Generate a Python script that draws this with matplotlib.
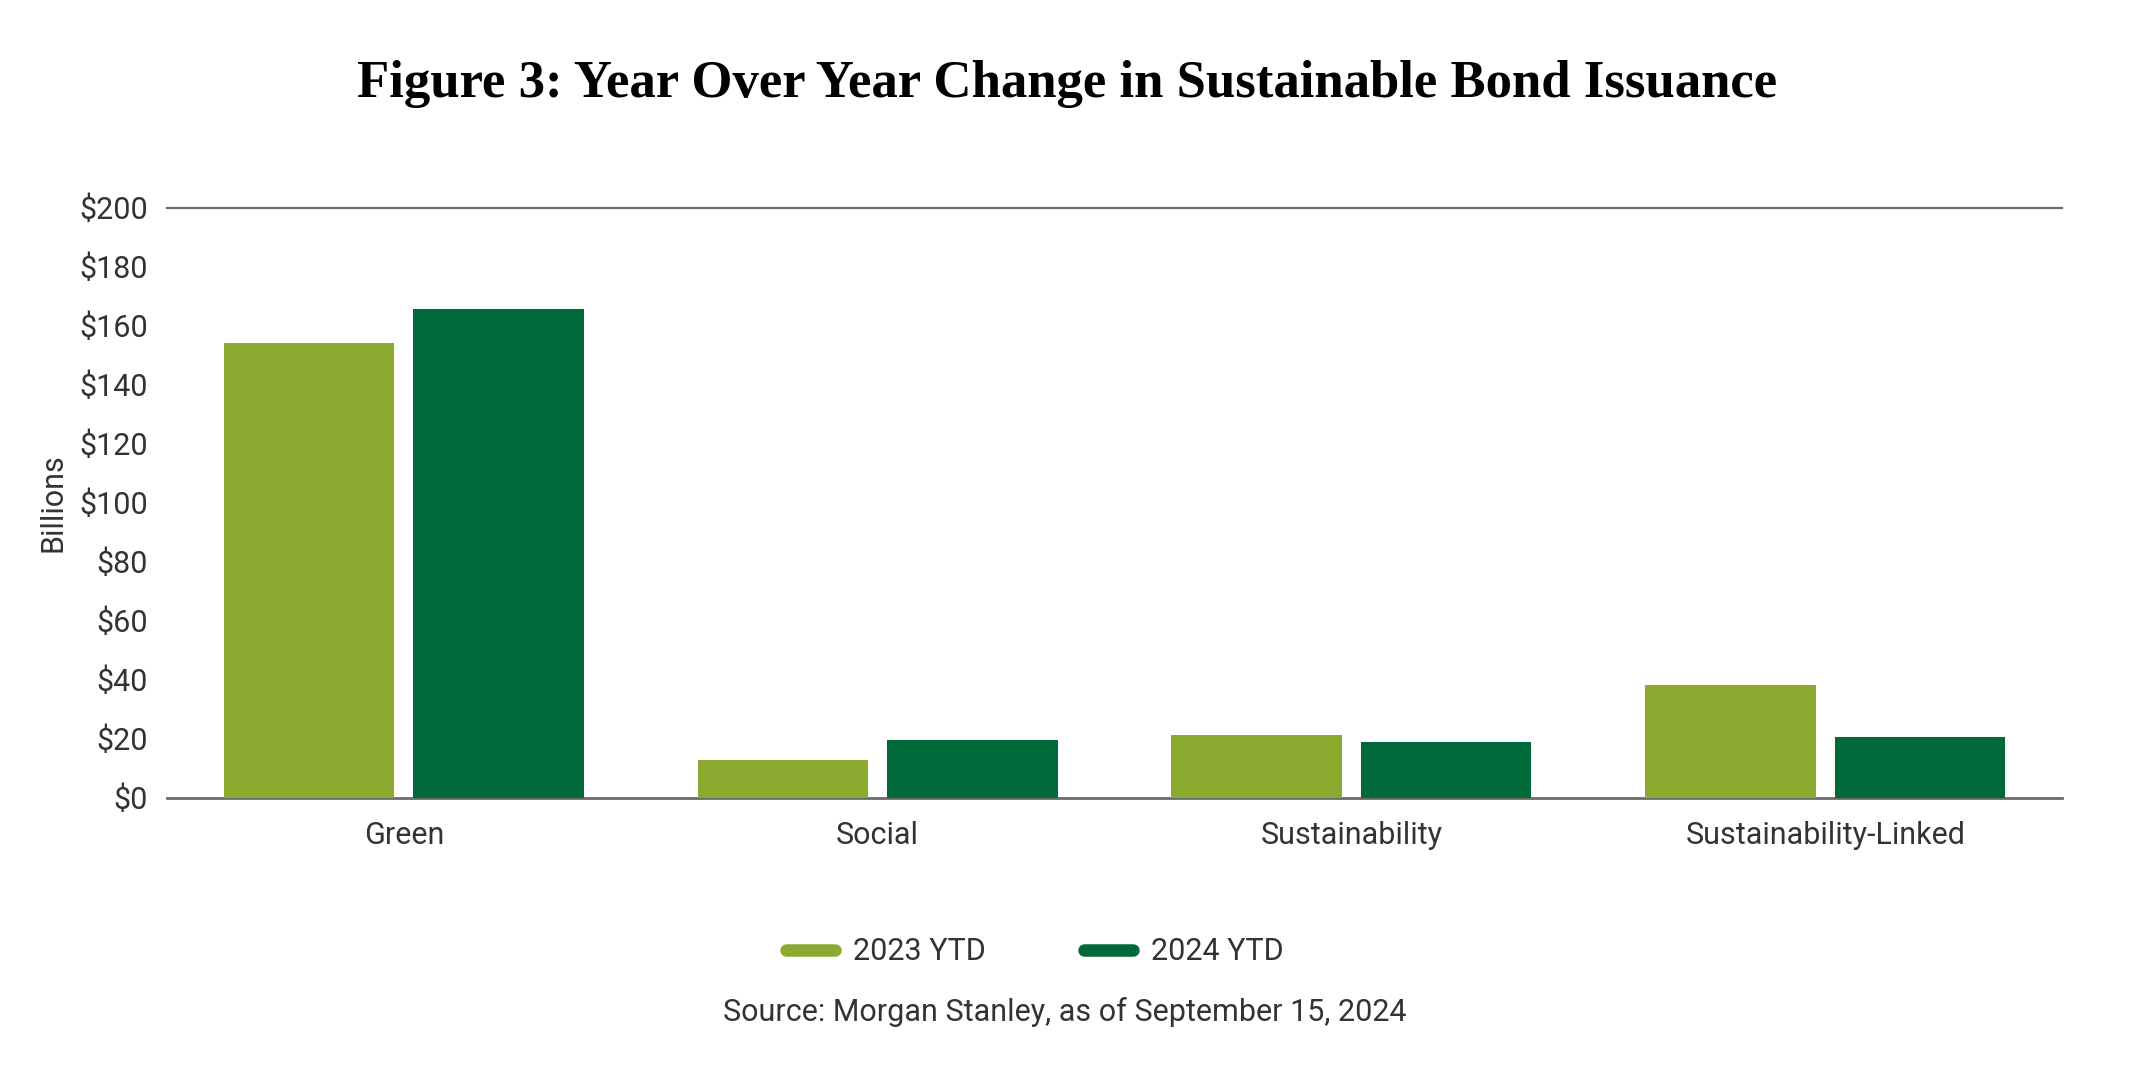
import numpy as np
import matplotlib
matplotlib.use("Agg")
import matplotlib.pyplot as plt
from matplotlib.lines import Line2D

# Data (billions USD)
categories = ["Green", "Social", "Sustainability", "Sustainability-Linked"]
ytd_2023 = [154.3, 12.9, 21.2, 38.1]
ytd_2024 = [165.8, 19.4, 19.0, 20.7]
series_labels = ["2023 YTD", "2024 YTD"]
yticks = [0, 20, 40, 60, 80, 100, 120, 140, 160, 180, 200]

light_green = "#8AAB2F"
dark_green = "#00693A"
text_col = "#333333"

plt.rcParams["font.family"] = ["Roboto", "DejaVu Sans"]

fig = plt.figure(figsize=(21.34, 10.67), dpi=100)
ax = fig.add_axes([0.0783, 0.2525, 0.888, 0.5528])

x = np.arange(len(categories))
w = 0.36
ax.bar(x - 0.2, ytd_2023, width=w, color=light_green, zorder=3)
ax.bar(x + 0.2, ytd_2024, width=w, color=dark_green, zorder=3)

ax.set_xlim(-0.5, len(categories) - 0.5)
ax.set_ylim(0, 200)
ax.set_yticks(yticks)
ax.set_yticklabels([f"${v}" for v in yticks])
ax.set_xticks(x)
ax.set_xticklabels(categories)
ax.tick_params(axis="both", length=0, labelsize=22, colors=text_col)
ax.tick_params(axis="y", pad=14)
ax.tick_params(axis="x", pad=17)

for s in ["left", "right", "top"]:
    ax.spines[s].set_visible(False)
ax.spines["bottom"].set_color("#6b6b6b")
ax.spines["bottom"].set_linewidth(2)
ax.axhline(200, color="#6b6b6b", lw=1.6, zorder=2, clip_on=False)

ax.set_ylabel("Billions", fontsize=22, color=text_col, labelpad=8)

fig.text(0.5, 0.921, "Figure 3: Year Over Year Change in Sustainable Bond Issuance",
         ha="center", va="center", fontsize=38, fontweight="bold",
         family=["Liberation Serif", "DejaVu Serif"], color="black")

handles = [Line2D([0], [0], color=light_green, lw=9, solid_capstyle="round"),
           Line2D([0], [0], color=dark_green, lw=9, solid_capstyle="round")]
leg = fig.legend(handles, series_labels, loc="center", bbox_to_anchor=(0.485, 0.108),
                 ncol=2, frameon=False, fontsize=22, handlelength=1.6,
                 columnspacing=3.2, handletextpad=0.6)
for t in leg.get_texts():
    t.set_color(text_col)

fig.text(0.499, 0.052, "Source: Morgan Stanley, as of September 15, 2024",
         ha="center", va="center", fontsize=22, color=text_col)

fig.savefig("out.png", dpi=100)
